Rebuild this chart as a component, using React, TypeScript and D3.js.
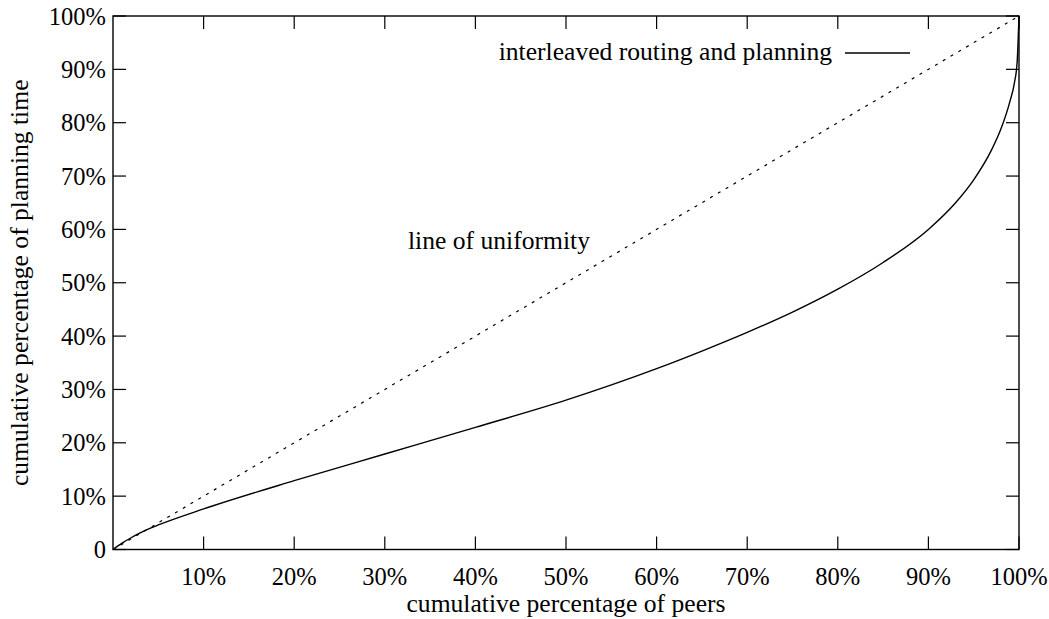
import React from "react";
import * as d3 from "d3";

// Cumulative share of peers (%) vs cumulative share of planning time (%)
const peersPct = [0, 1, 2, 3, 4, 5, 10, 20, 30, 40, 50, 60, 65, 70, 75, 80, 85, 90, 93, 95, 97, 98, 99, 99.5, 99.8, 100];
const planningPct = [0, 1.2, 2.2, 3.1, 3.9, 4.6, 7.6, 12.9, 17.9, 22.9, 28.0, 33.9, 37.2, 40.7, 44.5, 48.8, 53.8, 60.0, 65.0, 69.3, 75.0, 78.8, 84.0, 87.5, 91.5, 100];

const xTicks = [10, 20, 30, 40, 50, 60, 70, 80, 90, 100];
const yTicks = [0, 10, 20, 30, 40, 50, 60, 70, 80, 90, 100];

const seriesLabel = "interleaved routing and planning";
const diagonalLabel = "line of uniformity";
const xTitle = "cumulative percentage of peers";
const yTitle = "cumulative percentage of planning time";

const W = 1049;
const H = 619;
const M = { left: 113, right: 1019, top: 16, bottom: 549.5 };
const FONT = "'Liberation Serif', 'Times New Roman', serif";
const TICK = 13;
const TICK_FS = 24.5;
const TEXT_FS = 25.6;

export default function App() {
  const x = d3.scaleLinear().domain([0, 100]).range([M.left, M.right]);
  const y = d3.scaleLinear().domain([0, 100]).range([M.bottom, M.top]);

  const pts: [number, number][] = peersPct.map((p, i) => [p, planningPct[i]]);
  const line = d3
    .line<[number, number]>()
    .x((d) => x(d[0]))
    .y((d) => y(d[1]))
    .curve(d3.curveMonotoneX);

  const fmtY = (v: number) => (v === 0 ? "0" : `${v}%`);

  return (
    <svg
      width={W}
      height={H}
      style={{ position: "absolute", left: 0, top: 0, background: "#fff" }}
      fontFamily={FONT}
    >
      {/* line of uniformity */}
      <line
        x1={x(0)}
        y1={y(0)}
        x2={x(100)}
        y2={y(100)}
        stroke="#000"
        strokeWidth={1.2}
        strokeDasharray="3,6"
      />
      {/* measured curve */}
      <path d={line(pts) ?? ""} fill="none" stroke="#000" strokeWidth={1.4} />

      {/* frame */}
      <rect
        x={M.left}
        y={M.top}
        width={M.right - M.left}
        height={M.bottom - M.top}
        fill="none"
        stroke="#000"
        strokeWidth={1.4}
      />

      {/* y ticks, mirrored on the right */}
      {yTicks.map((t) => (
        <g key={`y${t}`}>
          <line x1={M.left} x2={M.left + TICK} y1={y(t)} y2={y(t)} stroke="#000" strokeWidth={1.2} />
          <line x1={M.right} x2={M.right - TICK} y1={y(t)} y2={y(t)} stroke="#000" strokeWidth={1.2} />
          <text x={M.left - 7} y={y(t)} dy="0.35em" textAnchor="end" fontSize={TICK_FS}>
            {fmtY(t)}
          </text>
        </g>
      ))}

      {/* x ticks, mirrored on top */}
      {xTicks.map((t) => (
        <g key={`x${t}`}>
          <line x1={x(t)} x2={x(t)} y1={M.bottom} y2={M.bottom - TICK} stroke="#000" strokeWidth={1.2} />
          <line x1={x(t)} x2={x(t)} y1={M.top} y2={M.top + TICK} stroke="#000" strokeWidth={1.2} />
          <text x={x(t)} y={585} textAnchor="middle" fontSize={TICK_FS}>
            {`${t}%`}
          </text>
        </g>
      ))}

      {/* axis titles */}
      <text x={(M.left + M.right) / 2} y={612} textAnchor="middle" fontSize={TEXT_FS}>
        {xTitle}
      </text>
      <text
        transform={`translate(28,${(M.top + M.bottom) / 2}) rotate(-90)`}
        textAnchor="middle"
        fontSize={TEXT_FS}
      >
        {yTitle}
      </text>

      {/* annotation */}
      <text x={408} y={249} fontSize={TEXT_FS}>
        {diagonalLabel}
      </text>

      {/* key */}
      <text x={832} y={60} textAnchor="end" fontSize={TEXT_FS}>
        {seriesLabel}
      </text>
      <line x1={845} x2={910} y1={53} y2={53} stroke="#000" strokeWidth={1.4} />
    </svg>
  );
}
